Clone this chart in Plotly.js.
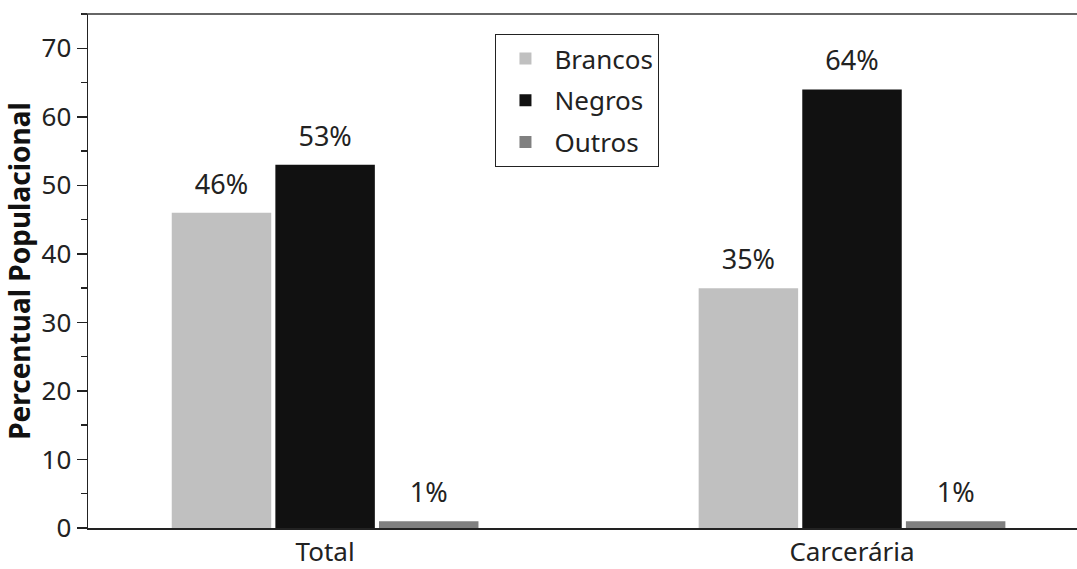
<!DOCTYPE html>
<html>
<head>
<meta charset="utf-8">
<script src="https://cdn.plot.ly/plotly-3.0.1.min.js"></script>
<style>html,body{margin:0;padding:0;background:#fff;}#chart{width:1077px;height:569px;}</style>
</head>
<body>
<div id="chart"></div>
<script>
var categories = ["Total", "Carcerária"];
var seriesNames = ["Brancos", "Negros", "Outros"];
var brancos = [46, 35];
var negros = [53, 64];
var outros = [1, 1];
var seriesValues = [brancos, negros, outros];
var seriesColors = ["#c0c0c0", "#111111", "#808080"];
var yTicks = [0, 10, 20, 30, 40, 50, 60, 70];

var fontFam = "Noto Sans, Open Sans, sans-serif";
var traces = seriesNames.map(function (name, i) {
  return {
    type: "bar",
    name: name,
    legendgroup: name,
    x: categories,
    y: seriesValues[i],
    marker: { color: seriesColors[i], line: { width: 0 } },
    text: seriesValues[i].map(function (v) {
      return "<span style='font-size:27px'>" + v + "%</span><br>&nbsp;";
    }),
    textposition: "outside",
    cliponaxis: false,
    textfont: { family: fontFam, size: 10, color: "#222" },
    hoverinfo: "skip"
  };
});

var layout = {
  width: 1077,
  height: 569,
  margin: { l: 88, r: 0, t: 14, b: 41 },
  paper_bgcolor: "#fff",
  plot_bgcolor: "#fff",
  barmode: "group",
  bargap: 0.41,
  bargroupgap: 0.04,
  font: { family: fontFam, color: "#222" },
  showlegend: true,
  legend: {
    x: 0.412, y: 0.961, xanchor: "left", yanchor: "top",
    bordercolor: "#222", borderwidth: 1,
    bgcolor: "#fff",
    font: { family: fontFam, size: 26, color: "#222" },
    tracegroupgap: 5,
    itemwidth: 48
  },
  xaxis: {
    range: [-0.45, 1.427],
    showline: true, linecolor: "#222", linewidth: 1.5,
    ticks: "", showgrid: false, zeroline: false,
    tickfont: { family: fontFam, size: 26, color: "#222" },
    fixedrange: true
  },
  yaxis: {
    range: [0, 75],
    tickvals: yTicks,
    showline: true, linecolor: "#222", linewidth: 1.5,
    ticks: "outside", ticklen: 10, tickwidth: 1.5, tickcolor: "#222",
    minor: { dtick: 5, ticks: "outside", ticklen: 6, tickwidth: 1.5, tickcolor: "#222", showgrid: false },
    showgrid: false, zeroline: false,
    tickfont: { family: fontFam, size: 26, color: "#222" },
    title: { text: "<b>Percentual Populacional</b>", font: { family: fontFam, size: 28, color: "#111" }, standoff: 4 },
    fixedrange: true
  },
  shapes: [
    { type: "line", xref: "paper", yref: "paper", x0: -0.006, x1: 1, y0: 1, y1: 1,
      line: { color: "#333", width: 1.5 } }
  ]
};

Plotly.newPlot("chart", traces, layout, { displayModeBar: false, staticPlot: true });
</script>
</body>
</html>
